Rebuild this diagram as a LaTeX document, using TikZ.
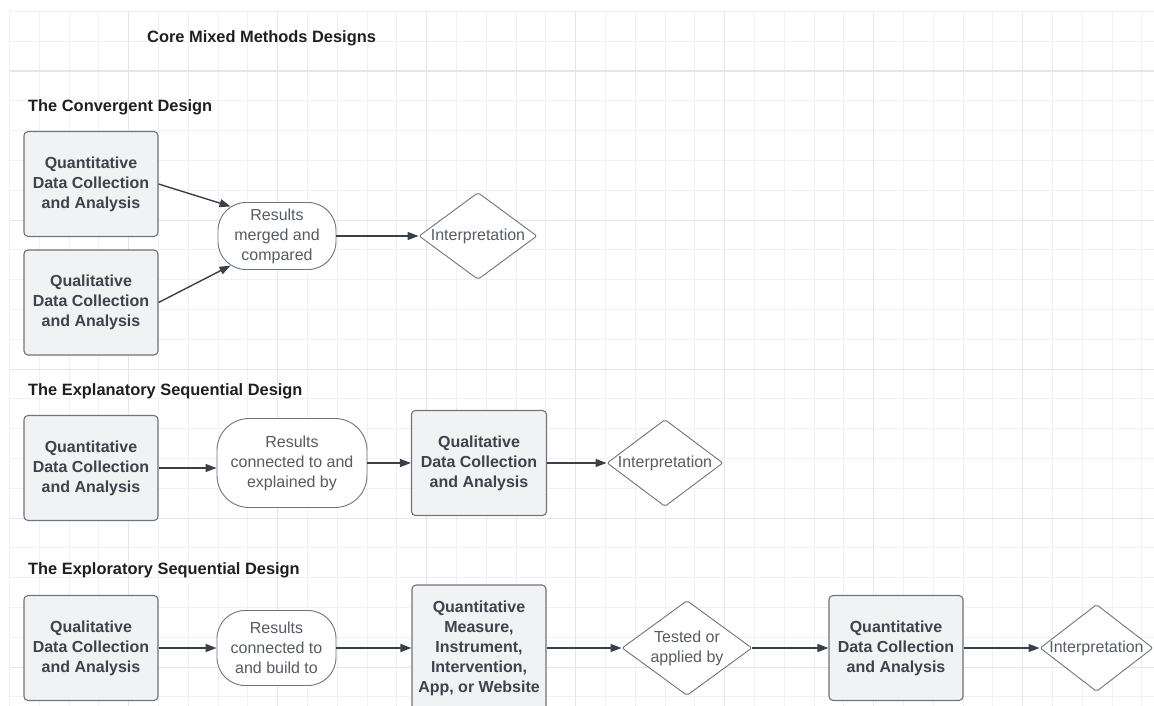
\documentclass[tikz,border=0pt]{standalone}
\usepackage{fontspec}
\setmainfont{Liberation Sans}
\usetikzlibrary{shapes.geometric, arrows.meta, positioning, calc}

\definecolor{gridminor}{HTML}{F1F1F1}
\definecolor{gridmajor}{HTML}{E6E6E6}
\definecolor{boxfill}{HTML}{F1F2F4}
\definecolor{boxline}{HTML}{6E747C}
\definecolor{inktext}{HTML}{3C434C}
\definecolor{softtext}{HTML}{565C64}
\definecolor{arrowink}{HTML}{3A4049}

\tikzset{
  stage/.style={rectangle, rounded corners=4pt, draw=boxline, line width=1.1pt, fill=boxfill,
    text=inktext, font=\bfseries\fontsize{16}{20}\selectfont, align=center,
    minimum width=134pt, minimum height=105pt, inner sep=0pt},
  result/.style={rectangle, rounded corners=28pt, draw=boxline,
    line width=0.9pt, fill=white, text=softtext, font=\fontsize{16}{20}\selectfont,
    align=center, inner sep=0pt},
  decision/.style={diamond, draw=boxline, line width=0.9pt, fill=white, rounded corners=2pt,
    text=softtext, font=\fontsize{16}{20}\selectfont, align=center, inner sep=0pt},
  heading/.style={anchor=west, inner sep=0pt, text=black!88,
    font=\bfseries\fontsize{16.4}{20}\selectfont},
  flow/.style={draw=arrowink, line width=1.4pt, -{Triangle[length=11pt,width=8pt]}}
}

\begin{document}
\begin{tikzpicture}[x=1pt, y=-1pt, on grid]
  \useasboundingbox (0,0) rectangle (1154,706);

  % background grid
  \foreach \k in {0,...,23}
    \draw[gridminor, line width=1pt] (9.5,11.5+29.8*\k) -- (1154,11.5+29.8*\k);
  \foreach \k in {0,...,38}
    \draw[gridminor, line width=1pt] (9.5+29.8*\k,11.5) -- (9.5+29.8*\k,706);
  \foreach \k in {2,7,...,22}
    \draw[gridmajor, line width=1.2pt] (9.5,11.5+29.8*\k) -- (1154,11.5+29.8*\k);
  \foreach \k in {4,9,...,34}
    \draw[gridmajor, line width=1.2pt] (9.5+29.8*\k,11.5) -- (9.5+29.8*\k,706);

  % headings
  \node[heading] (hMain)  at (147,38)  {Core Mixed Methods Designs};
  \node[heading] (hConv)  at (28,107)  {The Convergent Design};
  \node[heading] (hExpl)  at (28,391)  {The Explanatory Sequential Design};
  \node[heading] (hExplo) at (28,570)  {The Exploratory Sequential Design};

  % convergent
  \node[stage] (cQuan) at (91,184) {Quantitative\\Data Collection\\and Analysis};
  \node[stage] (cQual) [below=118.5pt of cQuan] {Qualitative\\Data Collection\\and Analysis};
  \node[result, minimum width=118pt, minimum height=67pt] (cRes) at (277,236) {Results\\merged and\\compared};
  \node[decision, minimum width=118pt, minimum height=87pt] (cInt) [right=201pt of cRes] {\makebox[0pt]{Interpretation}};

  % explanatory sequential
  \node[stage] (eQuan) at (91,468) {Quantitative\\Data Collection\\and Analysis};
  \node[result, rounded corners=32pt, minimum width=150pt, minimum height=89pt] (eRes) at (292,463) {Results\\connected to and\\explained by};
  \node[stage, minimum width=135pt] (eQual) [right=187pt of eRes] {Qualitative\\Data Collection\\and Analysis};
  \node[decision, minimum width=116pt, minimum height=87pt] (eInt) [right=186pt of eQual] {\makebox[0pt]{Interpretation}};

  % exploratory sequential
  \node[stage] (xQual) at (91,648) {Qualitative\\Data Collection\\and Analysis};
  \node[result, minimum width=119pt, minimum height=75pt] (xRes) [right=185.5pt of xQual] {Results\\connected to\\and build to};
  \node[stage, minimum height=126pt] (xMeas) [right=202.5pt of xRes] {Quantitative\\Measure,\\Instrument,\\Intervention,\\App, or Website};
  \node[decision, minimum width=130pt, minimum height=95pt] (xTest) [right=208pt of xMeas] {\makebox[0pt]{Tested or}\\\makebox[0pt]{applied by}};
  \node[stage] (xQuan) [right=209pt of xTest] {Quantitative\\Data Collection\\and Analysis};
  \node[decision, minimum width=113pt, minimum height=87pt] (xInt) [right=200.5pt of xQuan] {\makebox[0pt]{Interpretation}};

  \draw[flow] (cQuan.east) -- ($(cRes.north west)+(13,4.4)$);
  \draw[flow] (cQual.east) -- ($(cRes.south west)+(13,-4.4)$);
  \draw[flow] (cRes) -- (cInt);
  \draw[flow] (eQuan.east) -- (eQuan.east -| eRes.west);
  \draw[flow] (eRes) -- (eQual);
  \draw[flow] (eQual) -- (eInt);
  \draw[flow] (xQual) -- (xRes);
  \draw[flow] (xRes) -- (xMeas);
  \draw[flow] (xMeas) -- (xTest);
  \draw[flow] (xTest) -- (xQuan);
  \draw[flow] (xQuan) -- (xInt);
\end{tikzpicture}
\end{document}
